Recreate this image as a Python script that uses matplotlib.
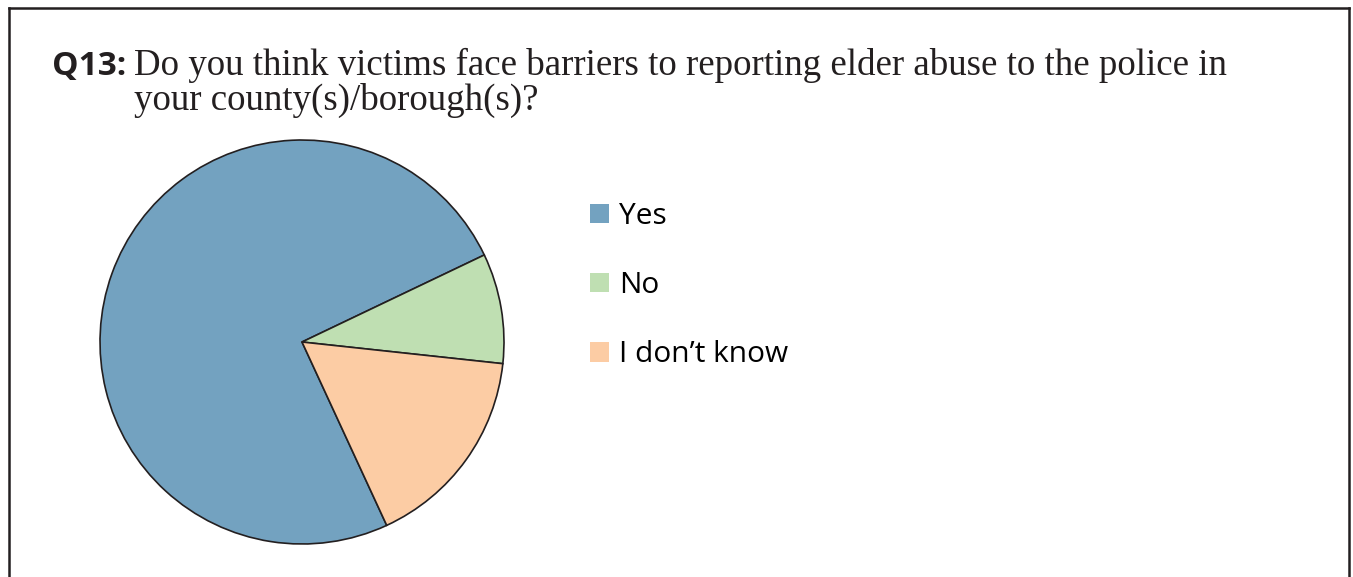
import matplotlib.pyplot as plt
from matplotlib.patches import Patch
from matplotlib.lines import Line2D

# Survey responses (percent of respondents)
labels = ["Yes", "No", "I don\u2019t know"]
shares = [74.8, 8.8, 16.4]
colors = ["#73a2c0", "#bfdfb2", "#fccca4"]

W, H = 1353, 577
fig = plt.figure(figsize=(W / 100, H / 100), dpi=100)

# Outer box (open at the bottom)
frame = dict(color="#231f20", lw=1.8, solid_capstyle="projecting")
fig.add_artist(Line2D([9 / W, 9 / W], [0, 1 - 8 / H], transform=fig.transFigure, **frame))
fig.add_artist(Line2D([9 / W, 1349 / W], [1 - 8 / H, 1 - 8 / H], transform=fig.transFigure, **frame))
fig.add_artist(Line2D([1349 / W, 1349 / W], [0, 1 - 8 / H], transform=fig.transFigure, **frame))

# Question text
fig.text(52 / W, 1 - 75 / H, "Q13:", fontsize=24, fontweight="bold",
         family="Open Sans", color="#231f20", va="baseline")
fig.text(134 / W, 1 - 75 / H,
         "Do you think victims face barriers to reporting elder abuse to the police in",
         fontsize=26.6, family="Liberation Serif", color="#231f20", va="baseline")
fig.text(134 / W, 1 - 110 / H, "your county(s)/borough(s)?",
         fontsize=26.6, family="Liberation Serif", color="#231f20", va="baseline")

# Pie
ax = fig.add_axes([99 / W, 32 / H, 406 / W, 406 / H])
ax.pie(shares, colors=colors, startangle=-65.2, counterclock=False,
       radius=1, wedgeprops=dict(edgecolor="#231f20", linewidth=1.2))
ax.set_xlim(-1.005, 1.005)
ax.set_ylim(-1.005, 1.005)
ax.set_aspect("equal")
ax.axis("off")

handles = [Patch(facecolor=c, edgecolor="none") for c in colors]
fig.legend(handles, labels, loc="upper left", bbox_to_anchor=(590 / W, 1 - 202 / H),
           frameon=False, prop=dict(family="Open Sans", size=21.5),
           handlelength=0.65, handleheight=0.65, handletextpad=0.33,
           labelspacing=1.34, borderpad=0, borderaxespad=0)

fig.savefig("out.png", dpi=100)
